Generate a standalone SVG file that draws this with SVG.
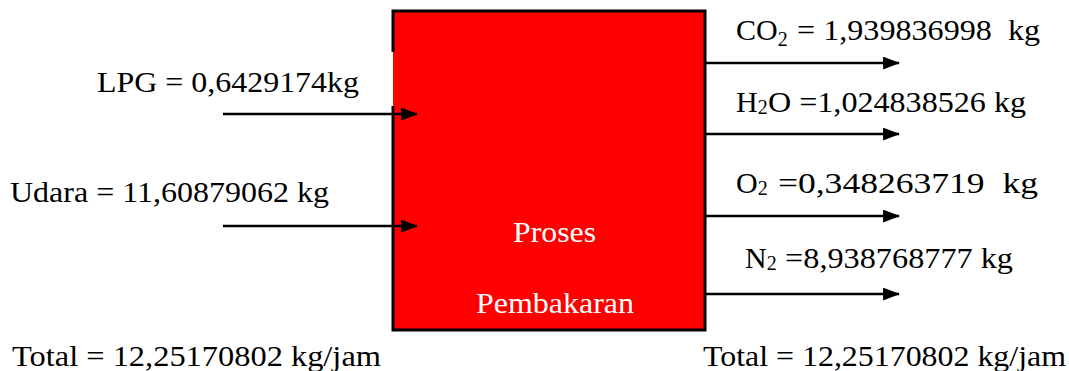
<svg xmlns="http://www.w3.org/2000/svg" width="1069" height="371" viewBox="0 0 1069 371">
  <style>
    .lbl { font-family: "Liberation Serif", "Times New Roman", serif; font-size: 30px; fill: #000; white-space: pre; }
    .inbox { font-family: "Liberation Serif", "Times New Roman", serif; font-size: 30px; fill: #fff; }
    .sub { font-size: 20px; }
    .flow { stroke: #000; stroke-width: 2.5; fill: none; marker-end: url(#arrow); }
  </style>
  <defs>
    <marker id="arrow" viewBox="0 0 16 12" refX="15" refY="6" markerWidth="17" markerHeight="13" markerUnits="userSpaceOnUse" orient="auto">
      <path d="M0,0 L16,6 L0,12 Z" fill="#000"/>
    </marker>
  </defs>

  <!-- combustion process block -->
  <g id="proses">
    <rect x="393" y="11" width="312" height="319" fill="#ff0000"/>
    <path d="M393,52 L393,11 L705,11 L705,330 L393,330 L393,106" stroke="#000" stroke-width="3" fill="none"/>
    <text class="inbox" x="513" y="242" textLength="83" lengthAdjust="spacingAndGlyphs">Proses</text>
    <text class="inbox" x="476" y="313" textLength="158" lengthAdjust="spacingAndGlyphs">Pembakaran</text>
  </g>

  <!-- inputs -->
  <g id="lpg">
    <text class="lbl" x="97" y="92" textLength="262" lengthAdjust="spacingAndGlyphs">LPG = 0,6429174kg</text>
  </g>
  <g id="udara">
    <text class="lbl" x="10" y="202" textLength="319" lengthAdjust="spacingAndGlyphs">Udara = 11,60879062 kg</text>
  </g>

  <!-- outputs -->
  <g id="co2">
    <text class="lbl" x="736" y="40">CO<tspan class="sub" dy="6">2</tspan><tspan dy="-6" x="789" textLength="251" lengthAdjust="spacingAndGlyphs"> = 1,939836998  kg</tspan></text>
  </g>
  <g id="h2o">
    <text class="lbl" x="736" y="112">H<tspan class="sub" dy="2">2</tspan><tspan dy="-2" x="768" textLength="258" lengthAdjust="spacingAndGlyphs">O =1,024838526 kg</tspan></text>
  </g>
  <g id="o2">
    <text class="lbl" x="736" y="193">O<tspan class="sub" dy="2">2</tspan><tspan dy="-2" x="769" textLength="269" lengthAdjust="spacingAndGlyphs"> =0,348263719  kg</tspan></text>
  </g>
  <g id="n2">
    <text class="lbl" x="745" y="268">N<tspan class="sub" dy="2">2</tspan><tspan dy="-2" x="777" textLength="236" lengthAdjust="spacingAndGlyphs"> =8,938768777 kg</tspan></text>
  </g>

  <!-- totals -->
  <g id="total-in">
    <text class="lbl" x="12" y="366" textLength="369" lengthAdjust="spacingAndGlyphs">Total = 12,25170802 kg/jam</text>
  </g>
  <g id="total-out">
    <text class="lbl" x="703" y="366" textLength="363" lengthAdjust="spacingAndGlyphs">Total = 12,25170802 kg/jam</text>
  </g>

  <!-- flow arrows -->
  <g id="connectors">
    <line class="flow" x1="223" y1="114" x2="417" y2="114"/>
    <line class="flow" x1="223" y1="226" x2="417" y2="226"/>
    <line class="flow" x1="705" y1="63" x2="899" y2="63"/>
    <line class="flow" x1="705" y1="134" x2="899" y2="134"/>
    <line class="flow" x1="705" y1="216" x2="899" y2="216"/>
    <line class="flow" x1="705" y1="294" x2="899" y2="294"/>
  </g>
</svg>
